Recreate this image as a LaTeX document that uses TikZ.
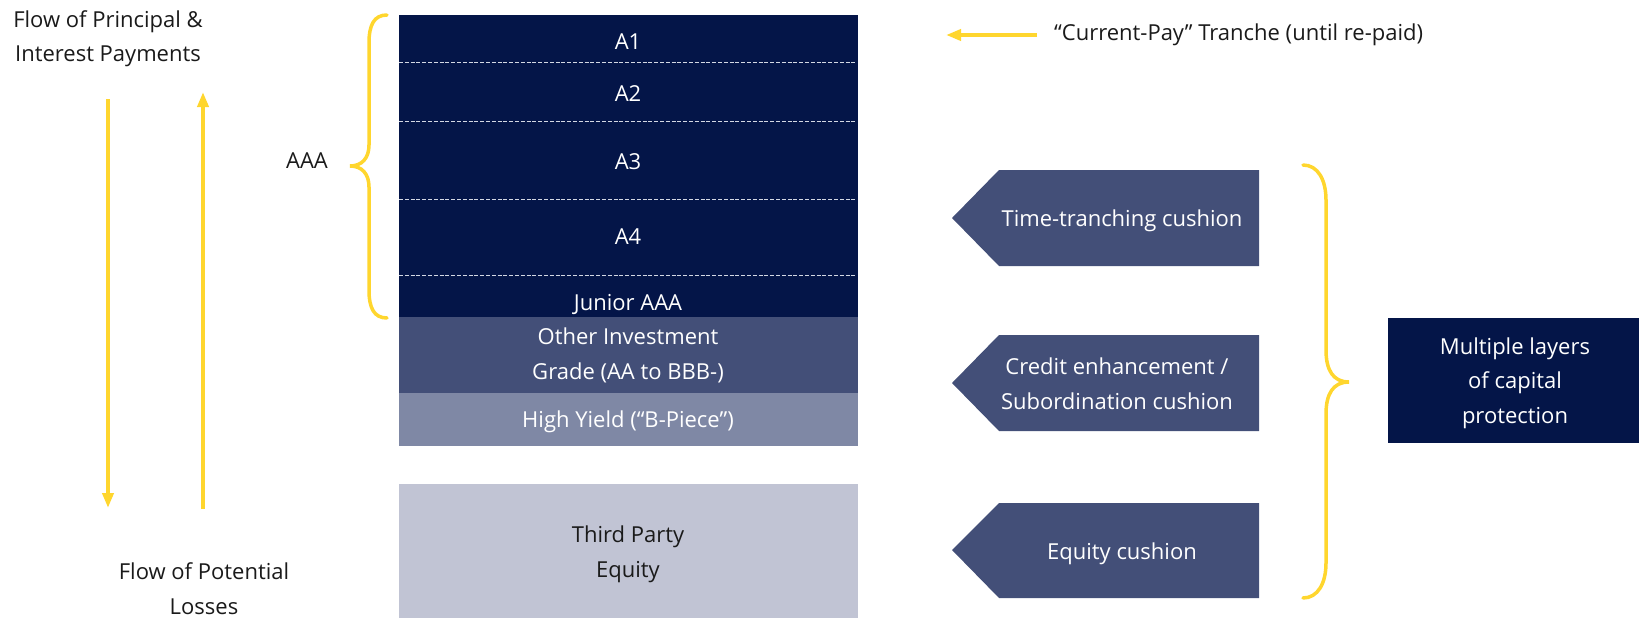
\documentclass[tikz,border=0pt]{standalone}
\usepackage{fontspec}
\setmainfont{Open Sans}
\usetikzlibrary{arrows.meta}
\definecolor{navy}{HTML}{041548}
\definecolor{slate}{HTML}{434F78}
\definecolor{lslate}{HTML}{7F88A5}
\definecolor{pale}{HTML}{C1C4D4}
\definecolor{gold}{HTML}{FFD62E}
\definecolor{ink}{HTML}{1A1A1A}
\definecolor{dashc}{HTML}{D4D8E4}
\newcommand{\dfont}{\fontsize{22}{34.5}\selectfont}
\begin{document}
\begin{tikzpicture}[x=1pt,y=-1pt,
  tranche/.style={fill=#1, draw=none, inner sep=0pt, outer sep=0pt, anchor=north west, minimum width=459pt},
  wtxt/.style={text=white, font=\dfont, inner sep=0pt, anchor=base, align=center},
  btxt/.style={text=ink, font=\dfont, inner sep=0pt, anchor=base, align=center},
  flow/.style={draw=gold, line width=4pt, -{Triangle[length=15pt,width=11pt]}},
  brace/.style={draw=gold, line width=3.5pt, line cap=round},
  sepline/.style={draw=dashc, line width=1pt, dash pattern=on 4pt off 1.8pt},
  cushion/.style={fill=slate}
]
\useasboundingbox (0,0) rectangle (1639,618);

% tranche stack
\node[tranche=navy, minimum height=48pt] (a1) at (399,15) {};
\node[tranche=navy, minimum height=58pt] (a2) at (399,63) {};
\node[tranche=navy, minimum height=78pt] (a3) at (399,121) {};
\node[tranche=navy, minimum height=76pt] (a4) at (399,199) {};
\node[tranche=navy, minimum height=42pt] (jr) at (399,275) {};
\node[tranche=slate, minimum height=76pt] (oig) at (399,317) {};
\node[tranche=lslate, minimum height=53pt] (hy) at (399,393) {};
\node[tranche=pale, minimum height=134pt] (tpe) at (399,484) {};

\draw[sepline] (a1.south west) -- ([xshift=-3pt]a1.south east);
\draw[sepline] (a2.south west) -- ([xshift=-3pt]a2.south east);
\draw[sepline] (a3.south west) -- ([xshift=-3pt]a3.south east);
\draw[sepline] (a4.south west) -- ([xshift=-3pt]a4.south east);

% (multi-line nodes: base anchor = last line's baseline)
\node[wtxt] (ta1) at (628,49.5) {A1};
\node[wtxt] (ta2) at (628,101.5) {A2};
\node[wtxt] (ta3) at (628,169.5) {A3};
\node[wtxt] (ta4) at (628,244.5) {A4};
\node[wtxt] (tjr) at (628,310) {Junior AAA};
\node[wtxt] (toig) at (628,379) {Other Investment\\Grade (AA to BBB-)};
\node[wtxt] (thy) at (628,427) {High Yield (“B-Piece”)};
\node[btxt] (ttpe) at (628,577) {Third Party\\Equity};

% left labels and flow arrows
\node[btxt] (pi) at (108,62) {Flow of Principal \&\\Interest Payments};
\node[btxt] (pl) at (204,614) {Flow of Potential\\Losses};
\node[btxt] (aaa) at (307,168) {AAA};

\coordinate (dtop) at (108,99);
\coordinate (dbot) at (108,508);
\coordinate (ubot) at (203,509);
\coordinate (utop) at (203,92);
\draw[flow] (dtop) -- (dbot);
\draw[flow] (ubot) -- (utop);

% AAA brace
\coordinate (b1s) at (387,15);
\coordinate (b1t) at (350,166);
\coordinate (b1e) at (387,318);
\draw[brace] (b1s) .. controls (374,15) and (369,25) .. (369,43) -- (369,145)
  .. controls (369,158) and (362,166) .. (b1t)
  .. controls (362,166) and (369,174) .. (369,187) -- (369,290)
  .. controls (369,308) and (374,318) .. (b1e);

% current pay
\node[btxt, anchor=base west] (cp) at (1054,41) {“Current-Pay” Tranche (until re-paid)};
\coordinate (cpt) at (946,35);
\coordinate (cps) at (1037,35);
\draw[flow] (cps) -- (cpt);

% cushions
\fill[cushion] (999,170) -- (1259,170) -- (1259,266) -- (999,266) -- (952,218) -- cycle;
\fill[cushion] (999,335) -- (1259,335) -- (1259,431) -- (999,431) -- (952,383) -- cycle;
\fill[cushion] (999,503) -- (1259,503) -- (1259,598) -- (999,598) -- (952,550) -- cycle;
\node[wtxt] (c1) at (1122,226) {Time-tranching cushion};
\node[wtxt] (c2) at (1117,409) {Credit enhancement /\\Subordination cushion};
\node[wtxt] (c3) at (1122,559) {Equity cushion};

% right brace
\coordinate (b2s) at (1303,165);
\coordinate (b2t) at (1349,382);
\coordinate (b2e) at (1303,598);
\draw[brace] (b2s) .. controls (1318,165) and (1326,180) .. (1326,200) -- (1326,350)
  .. controls (1326,370) and (1333,382) .. (b2t)
  .. controls (1333,382) and (1326,394) .. (1326,414) -- (1326,563)
  .. controls (1326,583) and (1318,598) .. (b2e);

% multiple layers box
\node[fill=navy, inner sep=0pt, outer sep=0pt, anchor=north west, minimum width=251pt, minimum height=125pt] (ml) at (1388,318) {};
\node[wtxt] (tml) at (1515,423) {Multiple layers\\of capital\\protection};
\end{tikzpicture}
\end{document}
